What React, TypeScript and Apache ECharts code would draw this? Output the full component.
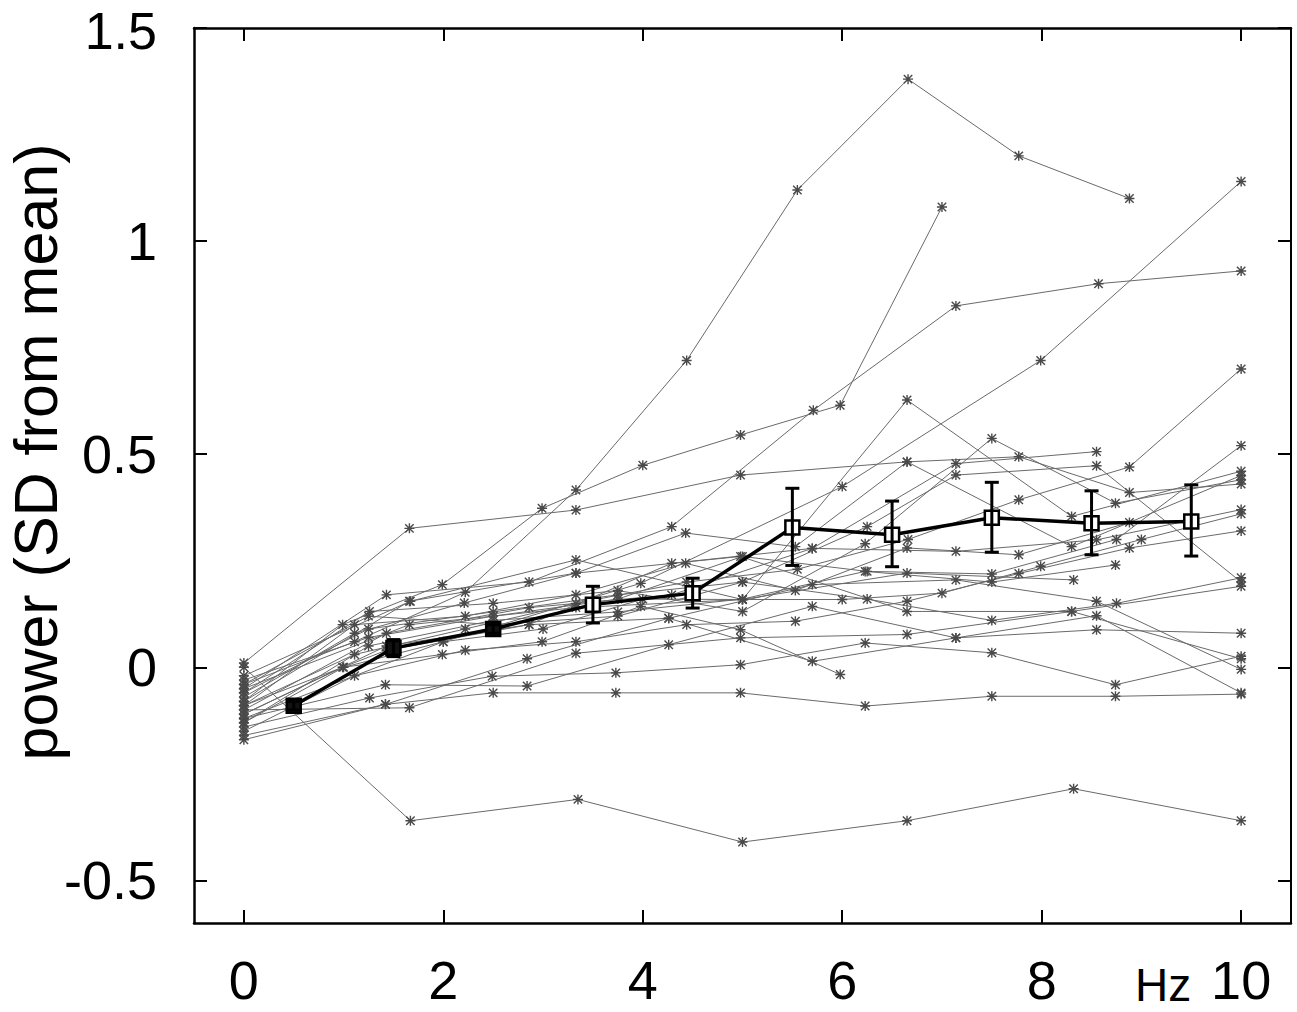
import React, { useEffect, useRef } from "react";
import * as echarts from "echarts";

// ---- tick labels ----
const xTicks = [0, 2, 4, 6, 8, 10];
const yTicks = [-0.5, 0, 0.5, 1, 1.5];
const yLabelsOnAxis = [-0.5, 0, 0.5, 1];
const yTopLabel = "1.5";

// ---- group mean (squares) with error bars ----
const meanX = [0.5, 1.5, 2.5, 3.5, 4.5, 5.5, 6.5, 7.5, 8.5, 9.5];
const meanY = [-0.09, 0.045, 0.09, 0.147, 0.174, 0.328, 0.311, 0.351, 0.338, 0.342];
const errLow = [-0.1, 0.025, 0.08, 0.104, 0.139, 0.239, 0.236, 0.27, 0.264, 0.261];
const errHigh = [-0.08, 0.065, 0.1, 0.19, 0.209, 0.42, 0.39, 0.434, 0.414, 0.428];

// ---- individual subjects (grey asterisk lines) ----
const s01 = [[0, -0.04], [1.11, 0.06], [2.22, 0.176], [3.33, 0.416], [4.44, 0.72], [5.55, 1.12], [6.66, 1.38], [7.77, 1.2], [8.88, 1.1]];
const s02 = [[0, -0.08], [0.99, 0.1], [1.99, 0.194], [2.99, 0.373], [4.0, 0.474], [4.98, 0.545], [5.98, 0.615], [7.0, 1.08]];
const s03 = [[0, -0.05], [1.43, 0.17], [2.86, 0.2], [4.29, 0.33], [5.71, 0.603], [7.14, 0.848], [8.57, 0.9], [10, 0.93]];
const s04 = [[0, -0.12], [2, 0.06], [3.98, 0.197], [6, 0.424], [7.99, 0.72], [10, 1.14]];
const s05 = [[0, -0.09], [1.11, 0.03], [2.22, 0.09], [3.33, 0.15], [4.44, 0.2], [5.55, 0.23], [6.66, 0.3], [7.77, 0.393], [8.88, 0.47], [10, 0.7]];
const s06 = [[0, -0.03], [1.25, 0.07], [2.5, 0.12], [3.75, 0.16], [5, 0.26], [6.25, 0.225], [7.5, 0.219], [8.75, 0.3], [10, 0.52]];
const s07 = [[0, -0.02], [1.67, 0.155], [3.33, 0.252], [5, 0.159], [6.65, 0.627], [8.3, 0.354], [10, 0.46]];
const s08 = [[0, 0.01], [1.66, 0.326], [3.33, 0.369], [4.98, 0.451], [6.65, 0.482], [8.3, 0.283], [10, 0.45]];
const s09 = [[0, -0.06], [1.26, 0.131], [2.5, 0.15], [3.75, 0.18], [5, 0.131], [6.23, 0.29], [7.5, 0.537], [8.74, 0.385], [10, 0.44]];
const s10 = [[0, -0.07], [1.11, 0.08], [2.21, 0.151], [3.33, 0.221], [4.43, 0.315], [5.53, 0.283], [6.65, 0.482], [7.77, 0.494], [8.88, 0.41], [10, 0.43]];
const s11 = [[0, -0.11], [1.43, 0.05], [2.86, 0.1], [4.29, 0.244], [5.7, 0.279], [7.14, 0.272], [8.55, 0.299], [10, 0.37]];
const s12 = [[0, -0.13], [1, 0.0], [2, 0.06], [3, 0.09], [4, 0.16], [5, 0.159], [6, 0.159], [7, 0.174], [7.99, 0.237], [9, 0.3], [10, 0.36]];
const s13 = [[0, -0.15], [1.11, -0.02], [2.22, 0.04], [3.33, 0.06], [4.44, 0.1], [5.53, 0.108], [6.65, 0.155], [7.77, 0.22], [8.88, 0.28], [10, 0.32]];
const s14 = [[0, -0.04], [1.25, 0.12], [2.5, 0.1], [3.75, 0.12], [5, 0.2], [6.25, 0.16], [7.5, 0.11], [8.75, 0.15], [10, 0.21]];
const s15 = [[0, -0.06], [1.25, 0.09], [2.5, 0.13], [3.75, 0.17], [5, 0.2], [6.25, 0.33], [7.14, 0.451], [8.55, 0.473], [10, 0.2]];
const s16 = [[0, -0.12], [1.42, -0.041], [2.84, -0.044], [4.26, 0.053], [5.7, 0.143], [7.14, 0.069], [8.55, 0.088], [10, 0.08]];
const s17 = [[0, -0.14], [1.26, -0.072], [2.49, -0.021], [3.73, -0.013], [4.98, 0.006], [6.23, 0.057], [7.5, 0.034], [8.74, -0.041], [10, 0.026]];
const s18 = [[0, -0.09], [1.43, 0.04], [2.86, 0.1], [4.26, 0.115], [5.7, 0.194], [7.14, 0.205], [8.55, 0.155], [10, -0.005]];
const s19 = [[0, -0.17], [1.42, -0.087], [2.5, -0.06], [3.73, -0.06], [4.98, -0.06], [6.23, -0.091], [7.5, -0.068], [8.74, -0.068], [10, -0.063]];
const s20 = [[0, 0.0], [1.67, -0.36], [3.35, -0.31], [5, -0.41], [6.65, -0.36], [8.32, -0.285], [10, -0.36]];
const s21 = [[0, -0.11], [0.99, 0.0], [1.99, 0.03], [2.99, 0.06], [3.98, 0.143], [4.98, 0.088], [5.98, -0.017]];
const s22 = [[0, -0.05], [1.66, 0.1], [3.33, 0.14], [5, 0.159], [6.65, 0.221], [8.32, 0.205]];
const s23 = [[0, -0.09], [1.11, 0.1], [2.22, 0.12], [3.33, 0.17], [4.43, 0.244], [5.53, 0.18], [6.65, 0.28], [7.77, 0.264], [8.88, 0.34]];
const s24 = [[0, -0.13], [1.25, 0.05], [2.5, 0.11], [3.75, 0.13], [5, 0.16], [6.23, 0.225], [7.5, 0.2], [8.74, 0.24]];
const s25 = [[0, -0.1], [1.43, 0.08], [2.86, 0.14], [4.29, 0.17], [5.7, 0.279], [7.14, 0.478], [8.55, 0.506]];
const s26 = [[0, -0.1], [1.66, -0.095], [3.33, 0.033], [4.98, 0.069], [6.65, 0.077], [8.3, 0.131], [10, 0.19]];
const s27 = [[0, -0.08], [1.66, 0.155], [3.33, 0.221], [4.98, 0.26], [6.65, 0.131], [8.3, 0.131], [10, 0.02]];
const s28 = [[0, -0.16], [1.42, -0.087], [2.84, 0.02], [4.26, 0.115], [5.7, 0.014], [7.14, 0.069], [8.55, 0.121], [10, -0.06]];

const subjects = [s01, s02, s03, s04, s05, s06, s07, s08, s09, s10, s11, s12, s13, s14,
  s15, s16, s17, s18, s19, s20, s21, s22, s23, s24, s25, s26, s27, s28];

const ASTERISK =
  "path://M4.3,0H5.7V10H4.3Z M0,4.3H10V5.7H0Z M1.3,0.3L9.7,8.7L8.7,9.7L0.3,1.3Z M8.7,0.3L9.7,1.3L1.3,9.7L0.3,8.7Z";

const FONT = "'Liberation Sans', Arial, Helvetica, sans-serif";

export default function App() {
  const ref = useRef<HTMLDivElement>(null);

  useEffect(() => {
    if (!ref.current) return;
    const chart = echarts.init(ref.current, undefined, { renderer: "svg" });

    const subjectSeries = subjects.map((pts) => ({
      type: "line",
      data: pts,
      symbol: ASTERISK,
      symbolSize: 10,
      showSymbol: true,
      lineStyle: { color: "#6a6a6a", width: 1 },
      itemStyle: { color: "#4a4a4a" },
      silent: true,
      z: 2,
    }));

    const meanData = meanX.map((x, i) => ({
      value: [x, meanY[i]],
      itemStyle: i < 3 ? { color: "#111", borderColor: "#000", borderWidth: 2.5 } : undefined,
    }));

    const errData = meanX.map((x, i) => [x, errLow[i], errHigh[i]]);

    const axisLineStyle = { color: "#000", width: 2.5 };
    const tickStyle = { color: "#000", width: 2 };

    const option = {
      animation: false,
      backgroundColor: "#fff",
      grid: { left: 194, right: 6, top: 28, bottom: 89, containLabel: false },
      xAxis: [
        {
          type: "value",
          min: -0.5,
          max: 10.5,
          position: "bottom",
          axisLine: { show: true, onZero: false, lineStyle: axisLineStyle },
          axisTick: { show: true, inside: true, length: 13, customValues: xTicks, lineStyle: tickStyle },
          axisLabel: { show: true, customValues: xTicks, fontSize: 54, lineHeight: 48, color: "#000", margin: 33, fontFamily: FONT },
          splitLine: { show: false },
        },
        {
          type: "value",
          min: -0.5,
          max: 10.5,
          position: "top",
          axisLine: { show: true, onZero: false, lineStyle: axisLineStyle },
          axisTick: { show: true, inside: true, length: 13, customValues: xTicks, lineStyle: tickStyle },
          axisLabel: { show: false },
          splitLine: { show: false },
        },
      ],
      yAxis: [
        {
          type: "value",
          min: -0.6,
          max: 1.5,
          position: "left",
          axisLine: { show: true, onZero: false, lineStyle: axisLineStyle },
          axisTick: { show: true, inside: true, length: 13, customValues: yTicks, lineStyle: tickStyle },
          axisLabel: {
            show: true,
            customValues: yLabelsOnAxis,
            fontSize: 54,
            lineHeight: 46,
            color: "#000",
            margin: 37,
            fontFamily: FONT,
            formatter: (v: number) => String(v),
          },
          splitLine: { show: false },
        },
        {
          type: "value",
          min: -0.6,
          max: 1.5,
          position: "right",
          axisLine: { show: true, onZero: false, lineStyle: { color: "#000", width: 2 } },
          axisTick: { show: true, inside: true, length: 13, customValues: yTicks, lineStyle: tickStyle },
          axisLabel: { show: false },
          splitLine: { show: false },
        },
      ],
      series: [
        ...subjectSeries,
        {
          type: "line",
          data: meanData,
          symbol: "rect",
          symbolSize: 14,
          lineStyle: { color: "#000", width: 3.5 },
          itemStyle: { color: "#fff", borderColor: "#000", borderWidth: 2.5 },
          z: 5,
          silent: true,
        },
        {
          type: "custom",
          data: errData,
          encode: { x: 0, y: [1, 2] },
          z: 6,
          silent: true,
          renderItem: (params: any, api: any) => {
            const x = api.value(0);
            const lo = api.coord([x, api.value(1)]);
            const hi = api.coord([x, api.value(2)]);
            const cap = 7;
            const st = { stroke: "#000", lineWidth: 3 };
            return {
              type: "group",
              children: [
                { type: "line", shape: { x1: lo[0], y1: lo[1], x2: hi[0], y2: hi[1] }, style: st },
                { type: "line", shape: { x1: lo[0] - cap, y1: lo[1], x2: lo[0] + cap, y2: lo[1] }, style: st },
                { type: "line", shape: { x1: hi[0] - cap, y1: hi[1], x2: hi[0] + cap, y2: hi[1] }, style: st },
              ],
            };
          },
        },
      ],
      graphic: [
        {
          type: "text",
          x: 157,
          y: 31,
          style: {
            text: yTopLabel,
            fontSize: 52,
            fontFamily: FONT,
            fill: "#000",
            align: "right",
            verticalAlign: "middle",
          },
        },
        {
          type: "text",
          x: 36,
          y: 452,
          rotation: Math.PI / 2,
          style: {
            text: "power (SD from mean)",
            fontSize: 61,
            fontFamily: FONT,
            fill: "#000",
            align: "center",
            verticalAlign: "middle",
          },
        },
        {
          type: "text",
          x: 1135,
          y: 985,
          style: {
            text: "Hz",
            fontSize: 46,
            fontFamily: FONT,
            fill: "#000",
            align: "left",
            verticalAlign: "middle",
          },
        },
      ],
    };

    chart.setOption(option as any);
    return () => chart.dispose();
  }, []);

  return (
    <div
      ref={ref}
      style={{ position: "absolute", left: 0, top: 0, width: 1297, height: 1012, background: "#fff" }}
    />
  );
}
